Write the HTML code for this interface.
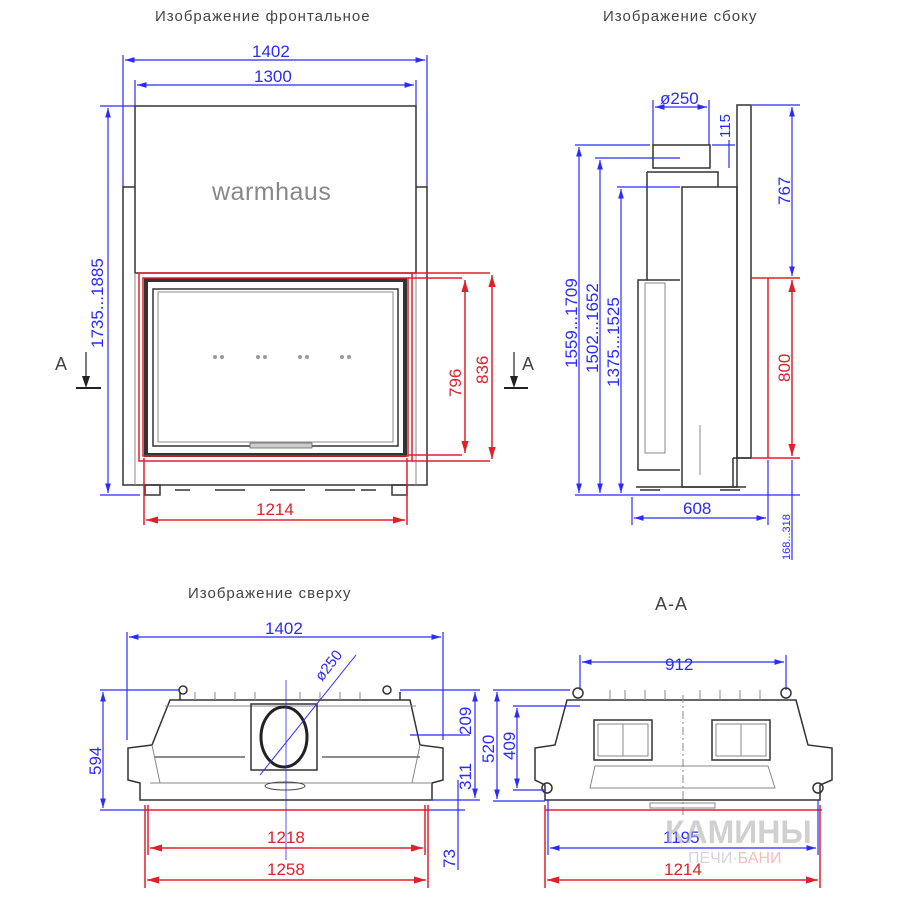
<!DOCTYPE html>
<html><head><meta charset="utf-8"><style>
body{margin:0;background:#fff}
svg{display:block}
text{font-family:"Liberation Sans","DejaVu Sans",sans-serif}
.b{stroke:#2b2bff;stroke-width:1.2;fill:none}
.r{stroke:#e0202a;stroke-width:1.5;fill:none}
.k{stroke:#333;stroke-width:1.5;fill:none}
.g{stroke:#888;stroke-width:1;fill:none}
.bt{fill:#2b2bff;font-size:17px}
.rt{fill:#e0202a;font-size:17px}
.tt{fill:#444;font-size:15px;letter-spacing:1px}
</style></head><body>
<svg width="900" height="900" viewBox="0 0 900 900" xmlns="http://www.w3.org/2000/svg">
<defs>
<marker id="ab" viewBox="0 0 10 6" refX="10" refY="3" markerWidth="8" markerHeight="5" orient="auto-start-reverse"><path d="M0,0L10,3L0,6z" fill="#2b2bff"/></marker>
<marker id="ar" viewBox="0 0 10 6" refX="10" refY="3" markerWidth="8" markerHeight="5" orient="auto-start-reverse"><path d="M0,0L10,3L0,6z" fill="#e0202a"/></marker>
</defs>
<text x="155" y="21" class="tt">Изображение фронтальное</text>
<text x="603" y="21" class="tt">Изображение сбоку</text>
<text x="188" y="598" class="tt">Изображение сверху</text>
<text x="655" y="610" class="tt" style="font-size:18px">А-А</text>

<!-- FRONT VIEW -->
<g>
<line class="b" x1="123" y1="55" x2="123" y2="187"/><line class="b" x1="427" y1="55" x2="427" y2="187"/>
<line class="b" x1="125" y1="60" x2="425" y2="60" marker-start="url(#ab)" marker-end="url(#ab)"/>
<text x="252" y="57" class="bt">1402</text>
<line class="b" x1="135" y1="80" x2="135" y2="106"/><line class="b" x1="416" y1="80" x2="416" y2="106"/>
<line class="b" x1="137" y1="85" x2="414" y2="85" marker-start="url(#ab)" marker-end="url(#ab)"/>
<text x="254" y="82" class="bt">1300</text>
<rect class="k" x="135" y="106" width="281" height="167" stroke-width="1.3"/>
<text x="212" y="200" fill="#888" font-size="25" letter-spacing="0.5">warmhaus</text>
<path class="k" d="M135,187H123V485H427V187H416" stroke-width="1.3"/>
<line class="g" x1="135" y1="273" x2="135" y2="485"/><line class="g" x1="416" y1="273" x2="416" y2="485"/>
<rect x="146" y="280" width="259" height="175" fill="none" stroke="#333" stroke-width="4"/>
<rect class="k" x="153" y="289" width="245" height="157" stroke-width="1.2"/>
<rect class="g" x="158" y="292" width="235" height="150"/>
<rect x="250" y="443" width="62" height="5" fill="#ccc" stroke="#666" stroke-width="0.8"/>
<g fill="#999"><circle cx="215" cy="357" r="2"/><circle cx="222" cy="357" r="2"/><circle cx="258" cy="357" r="2"/><circle cx="265" cy="357" r="2"/><circle cx="300" cy="357" r="2"/><circle cx="307" cy="357" r="2"/><circle cx="342" cy="357" r="2"/><circle cx="349" cy="357" r="2"/></g>
<rect class="r" x="139" y="273" width="273" height="188"/>
<rect class="r" x="143" y="278" width="265" height="178" stroke-width="1"/>
<path class="k" d="M145,485h15v10h-15zM392,485h15v10h-15zM175,490h15M361,490h15M215,490h30M270,490h35M325,490h30" stroke-width="2"/>
<line class="b" x1="100" y1="106" x2="135" y2="106"/><line class="b" x1="100" y1="495" x2="140" y2="495"/>
<line class="b" x1="108" y1="108" x2="108" y2="493" marker-start="url(#ab)" marker-end="url(#ab)"/>
<text transform="translate(103,348) rotate(-90)" class="bt">1735...1885</text>
<line class="r" x1="408" y1="278" x2="462" y2="278" stroke-width="1"/><line class="r" x1="408" y1="455" x2="462" y2="455" stroke-width="1"/>
<line class="r" x1="412" y1="273" x2="490" y2="273" stroke-width="1"/><line class="r" x1="412" y1="461" x2="490" y2="461" stroke-width="1"/>
<line class="r" x1="465" y1="280" x2="465" y2="453" marker-start="url(#ar)" marker-end="url(#ar)"/>
<line class="r" x1="492" y1="275" x2="492" y2="459" marker-start="url(#ar)" marker-end="url(#ar)"/>
<text transform="translate(461,397) rotate(-90)" class="rt">796</text>
<text transform="translate(488,384) rotate(-90)" class="rt">836</text>
<line class="r" x1="144" y1="458" x2="144" y2="525" stroke-width="1"/><line class="r" x1="407" y1="458" x2="407" y2="525" stroke-width="1"/>
<line class="r" x1="146" y1="520" x2="405" y2="520" marker-start="url(#ar)" marker-end="url(#ar)"/>
<text x="256" y="515" class="rt">1214</text>
<text x="55" y="370" fill="#444" font-size="18">А</text>
<line x1="86" y1="352" x2="86" y2="385" stroke="#333" stroke-width="1.3"/><path d="M82,376L86,388L90,376z" fill="#222"/>
<line x1="76" y1="388" x2="101" y2="388" stroke="#222" stroke-width="2"/>
<text x="522" y="370" fill="#444" font-size="18">А</text>
<line x1="514" y1="352" x2="514" y2="385" stroke="#333" stroke-width="1.3"/><path d="M510,376L514,388L518,376z" fill="#222"/>
<line x1="504" y1="388" x2="528" y2="388" stroke="#222" stroke-width="2"/>
</g>

<!-- SIDE VIEW -->
<g>
<line class="b" x1="653" y1="100" x2="653" y2="145"/><line class="b" x1="709" y1="100" x2="709" y2="145"/>
<line class="b" x1="655" y1="107" x2="707" y2="107" marker-start="url(#ab)" marker-end="url(#ab)"/>
<text x="660" y="104" class="bt">ø250</text>
<line class="b" x1="729" y1="140" x2="729" y2="168"/><line class="b" x1="712" y1="145" x2="735" y2="145"/>
<text transform="translate(730,138) rotate(-90)" class="bt" style="font-size:15px">115</text>
<rect class="k" x="653" y="145" width="57" height="23"/>
<rect class="k" x="737" y="105" width="14" height="353"/>
<path class="k" d="M647,172H718V187M647,172V280"/>
<rect class="k" x="682" y="187" width="55" height="300" stroke-width="1.2"/>
<path class="k" d="M680,280H638V470H680M733,458H751M733,458V487"/>
<rect class="g" x="645" y="283" width="20" height="170"/>
<line class="g" x1="700" y1="425" x2="700" y2="475"/>
<path class="k" d="M636,487h110M640,490h20M720,490h20" stroke-width="2"/>
<line class="b" x1="575" y1="145" x2="650" y2="145"/><line class="b" x1="595" y1="158" x2="680" y2="158"/><line class="b" x1="617" y1="187" x2="680" y2="187"/>
<line class="b" x1="575" y1="495" x2="800" y2="495"/>
<line class="b" x1="579" y1="147" x2="579" y2="493" marker-start="url(#ab)" marker-end="url(#ab)"/>
<line class="b" x1="600" y1="160" x2="600" y2="493" marker-start="url(#ab)" marker-end="url(#ab)"/>
<line class="b" x1="621" y1="189" x2="621" y2="493" marker-start="url(#ab)" marker-end="url(#ab)"/>
<text transform="translate(577,368) rotate(-90)" class="bt">1559...1709</text>
<text transform="translate(598,373) rotate(-90)" class="bt">1502...1652</text>
<text transform="translate(619,387) rotate(-90)" class="bt">1375...1525</text>
<line class="b" x1="752" y1="105" x2="800" y2="105"/>
<line class="b" x1="792" y1="107" x2="792" y2="276" marker-start="url(#ab)" marker-end="url(#ab)"/>
<text transform="translate(790,205) rotate(-90)" class="bt">767</text>
<line class="r" x1="751" y1="278" x2="800" y2="278" stroke-width="1"/><line class="r" x1="751" y1="458" x2="800" y2="458" stroke-width="1"/>
<line class="r" x1="768" y1="278" x2="768" y2="458" stroke-width="1"/>
<line class="r" x1="792" y1="280" x2="792" y2="456" marker-start="url(#ar)" marker-end="url(#ar)"/>
<text transform="translate(790,382) rotate(-90)" class="rt">800</text>
<line class="b" x1="792" y1="460" x2="792" y2="560"/>
<line class="b" x1="632" y1="497" x2="632" y2="525"/><line class="b" x1="768" y1="460" x2="768" y2="525"/>
<line class="b" x1="634" y1="518" x2="766" y2="518" marker-start="url(#ab)" marker-end="url(#ab)"/>
<text x="683" y="514" class="bt">608</text>
<text transform="translate(790,560) rotate(-90)" class="bt" style="font-size:11px">168...318</text>
</g>

<!-- TOP VIEW -->
<g>
<line class="b" x1="127" y1="632" x2="127" y2="740"/><line class="b" x1="443" y1="632" x2="443" y2="740"/>
<line class="b" x1="129" y1="637" x2="441" y2="637" marker-start="url(#ab)" marker-end="url(#ab)"/>
<text x="265" y="634" class="bt">1402</text>
<path class="k" d="M170,700H410L420,745L443,748V780L432,783V800H140V783L128,780V748L152,745Z" stroke-width="1.3"/>
<path class="g" d="M152,745L160,783M420,745L412,783M150,783H432M165,706H416"/>
<path class="k" d="M180,700V692M400,700V692" stroke-width="1"/>
<circle class="k" cx="183" cy="690" r="4"/><circle class="k" cx="387" cy="690" r="4"/>
<g class="g"><path d="M195,692v8M215,692v8M235,692v8M255,692v8M300,692v8M320,692v8M340,692v8M360,692v8"/></g>
<rect class="k" x="251" y="704" width="66" height="66" stroke-width="1.2"/>
<ellipse cx="284" cy="737" rx="23" ry="30" fill="none" stroke="#222" stroke-width="3"/>
<line x1="260" y1="775" x2="356" y2="655" stroke="#2b2bff" stroke-width="1"/>
<text transform="translate(322,682) rotate(-52)" class="bt" style="font-size:15px">ø250</text>
<line x1="286" y1="680" x2="286" y2="860" stroke="#2b2bff" stroke-width="0.8"/>
<path d="M155,757H245M322,757H420" stroke="#666" stroke-width="1.5"/>
<ellipse cx="285" cy="786" rx="20" ry="4" fill="none" stroke="#444"/>
<line class="b" x1="100" y1="690" x2="180" y2="690"/><line class="b" x1="400" y1="690" x2="480" y2="690"/>
<line class="b" x1="100" y1="810" x2="148" y2="810"/>
<line class="b" x1="103" y1="692" x2="103" y2="808" marker-start="url(#ab)" marker-end="url(#ab)"/>
<text transform="translate(101,775) rotate(-90)" class="bt">594</text>
<line class="b" x1="410" y1="735" x2="470" y2="735"/>
<line class="b" x1="432" y1="800" x2="480" y2="800"/>
<line class="b" x1="475" y1="692" x2="475" y2="798" marker-start="url(#ab)" marker-end="url(#ab)"/>
<text transform="translate(471,735) rotate(-90)" class="bt">209</text>
<text transform="translate(471,790) rotate(-90)" class="bt">311</text>
<line class="b" x1="458" y1="780" x2="458" y2="870"/>
<line class="b" x1="430" y1="810" x2="465" y2="810"/>
<text transform="translate(455,868) rotate(-90)" class="bt">73</text>
<line class="r" x1="145" y1="810" x2="430" y2="810" stroke-width="1"/>
<line class="r" x1="145" y1="805" x2="145" y2="888" stroke-width="1"/><line class="r" x1="428" y1="805" x2="428" y2="888" stroke-width="1"/>
<line class="r" x1="148" y1="805" x2="148" y2="855" stroke-width="1"/><line class="r" x1="425" y1="805" x2="425" y2="855" stroke-width="1"/>
<line class="r" x1="150" y1="848" x2="423" y2="848" marker-start="url(#ar)" marker-end="url(#ar)"/>
<text x="267" y="843" class="rt">1218</text>
<line class="r" x1="147" y1="880" x2="426" y2="880" marker-start="url(#ar)" marker-end="url(#ar)"/>
<text x="267" y="875" class="rt">1258</text>
</g>

<!-- A-A -->
<g>
<line class="b" x1="580" y1="655" x2="580" y2="690"/><line class="b" x1="786" y1="655" x2="786" y2="690"/>
<line class="b" x1="582" y1="662" x2="784" y2="662" marker-start="url(#ab)" marker-end="url(#ab)"/>
<text x="665" y="670" class="bt">912</text>
<path class="k" d="M567,700H796L808,745L832,748V780L820,785V800H545V785L535,780V748L555,745Z" stroke-width="1.3"/>
<circle class="k" cx="578" cy="693" r="5"/><circle class="k" cx="786" cy="693" r="5"/>
<circle class="k" cx="547" cy="788" r="5"/><circle class="k" cx="818" cy="788" r="5"/>
<g class="g"><path d="M610,690v10M625,690v10M645,690v10M665,690v10M700,690v10M720,690v10M740,690v10M760,690v10"/></g>
<rect class="k" x="594" y="720" width="58" height="40" stroke-width="1.2"/><rect class="g" x="598" y="724" width="50" height="32"/><line class="g" x1="623" y1="724" x2="623" y2="756"/>
<rect class="k" x="712" y="720" width="58" height="40" stroke-width="1.2"/><rect class="g" x="716" y="724" width="50" height="32"/><line class="g" x1="741" y1="724" x2="741" y2="756"/>
<path class="g" d="M595,766H768L775,788H590Z"/>
<line x1="683" y1="695" x2="683" y2="815" stroke="#888" stroke-dasharray="8,3,2,3"/>
<rect class="g" x="650" y="803" width="65" height="5"/>
<line class="b" x1="493" y1="690" x2="570" y2="690"/><line class="b" x1="513" y1="706" x2="580" y2="706"/>
<line class="b" x1="493" y1="801" x2="545" y2="801"/><line class="b" x1="513" y1="790" x2="545" y2="790"/>
<line class="b" x1="497" y1="692" x2="497" y2="799" marker-start="url(#ab)" marker-end="url(#ab)"/>
<line class="b" x1="517" y1="708" x2="517" y2="788" marker-start="url(#ab)" marker-end="url(#ab)"/>
<text transform="translate(494,763) rotate(-90)" class="bt">520</text>
<text transform="translate(515,760) rotate(-90)" class="bt">409</text>
<line class="r" x1="545" y1="810" x2="822" y2="810" stroke-width="2"/>
<line class="b" x1="548" y1="800" x2="548" y2="855"/><line class="b" x1="818" y1="800" x2="818" y2="855"/>
<line class="b" x1="550" y1="848" x2="816" y2="848" marker-start="url(#ab)" marker-end="url(#ab)"/>
<text x="663" y="843" class="bt">1195</text>
<line class="r" x1="545" y1="805" x2="545" y2="888" stroke-width="1"/><line class="r" x1="820" y1="805" x2="820" y2="888" stroke-width="1"/>
<line class="r" x1="547" y1="880" x2="818" y2="880" marker-start="url(#ar)" marker-end="url(#ar)"/>
<text x="664" y="875" class="rt">1214</text>
<text x="665" y="843" fill="#aaa" fill-opacity="0.55" font-size="32" font-weight="bold">КАМИНЫ</text>
<text x="688" y="863" fill="#bbb" fill-opacity="0.6" font-size="16">ПЕЧИ·<tspan fill="#f09090">БАНИ</tspan></text>
</g>
</svg>
</body></html>
